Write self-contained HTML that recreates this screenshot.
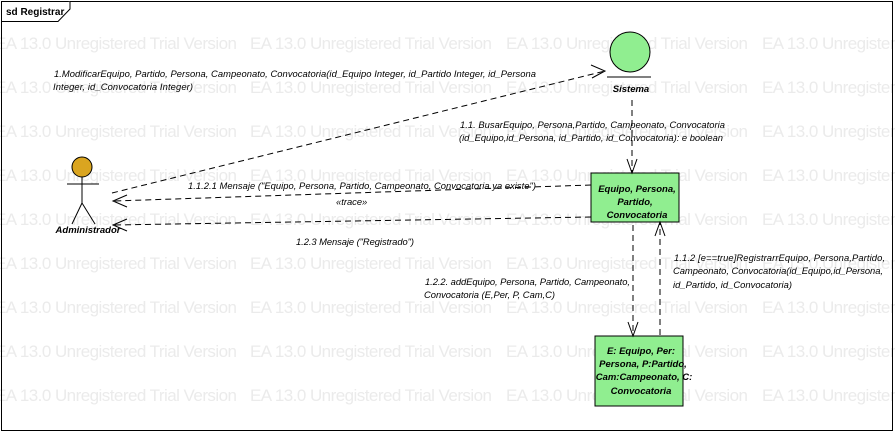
<!DOCTYPE html>
<html><head><meta charset="utf-8"><style>
html,body{margin:0;padding:0;background:#fff;}
svg{display:block;}
.wm{font-family:"Liberation Sans",sans-serif;font-size:17px;fill:#ebebeb;}
.l{font-family:"Liberation Sans",sans-serif;font-size:9.4px;font-style:italic;fill:#000;}
.b{font-family:"Liberation Sans",sans-serif;font-size:9.5px;font-style:italic;font-weight:bold;fill:#000;}
</style></head><body>
<svg width="895" height="433" viewBox="0 0 895 433" xmlns="http://www.w3.org/2000/svg">
<g class="wm">
<g id="r"><text x="-5" y="49" textLength="242">EA 13.0 Unregistered Trial Version</text><text x="250" y="49" textLength="242">EA 13.0 Unregistered Trial Version</text><text x="506" y="49" textLength="242">EA 13.0 Unregistered Trial Version</text><text x="762" y="49" textLength="242">EA 13.0 Unregistered Trial Version</text></g>
<use href="#r" y="44"/><use href="#r" y="88"/><use href="#r" y="132"/><use href="#r" y="176"/><use href="#r" y="220"/><use href="#r" y="264"/><use href="#r" y="308"/><use href="#r" y="352"/>
</g>
<rect x="1.5" y="1.5" width="891" height="429" fill="none" stroke="#000" stroke-width="1"/>
<path d="M1.5 21.5 H58 L70 9 V1.5" fill="#fff" stroke="#000"/>
<text x="6" y="15" font-family="Liberation Sans,sans-serif" font-size="10" font-weight="bold">sd Registrar</text>

<circle cx="82" cy="167" r="10" fill="#DAA520" stroke="#000"/>
<g stroke="#000" fill="none">
<line x1="82" y1="177" x2="82" y2="203"/><line x1="67" y1="184" x2="99" y2="184"/>
<line x1="82" y1="203" x2="72" y2="224"/><line x1="82" y1="203" x2="95" y2="224"/>
</g>
<text class="b" x="88" y="233" text-anchor="middle">Administrador</text>

<circle cx="630" cy="52" r="20" fill="#90EE90" stroke="#000"/>
<line x1="607" y1="77" x2="651" y2="77" stroke="#000"/>
<text class="b" x="631" y="92" text-anchor="middle">Sistema</text>

<rect x="591" y="173" width="88" height="49" fill="#90EE90" stroke="#000"/>
<text class="b" x="637" y="192" text-anchor="middle">Equipo, Persona,</text>
<text class="b" x="635" y="205" text-anchor="middle">Partido,</text>
<text class="b" x="637" y="218" text-anchor="middle">Convocatoria</text>
<rect x="595" y="336" width="88" height="70" fill="#90EE90" stroke="#000"/>
<text class="b" x="641" y="354" text-anchor="middle">E: Equipo, Per:</text>
<text class="b" x="643" y="367" text-anchor="middle">Persona, P:Partido,</text>
<text class="b" x="644" y="380" text-anchor="middle">Cam:Campeonato, C:</text>
<text class="b" x="641" y="394" text-anchor="middle">Convocatoria</text>

<g stroke="#000" fill="none" stroke-dasharray="6,4">
<line x1="112" y1="193" x2="605" y2="71"/>
<line x1="632" y1="100" x2="632" y2="172"/>
<line x1="591" y1="185" x2="114" y2="201"/>
<line x1="591" y1="217" x2="114" y2="225"/>
<line x1="633" y1="225" x2="633" y2="335"/>
<line x1="660" y1="335" x2="660" y2="223"/>
</g>
<g stroke="#000" fill="none">
<path d="M591 65 L605 71 L592 78"/>
<path d="M627 159 L632 173 L637 159"/>
<path d="M127 195 L113 201 L127 207"/>
<path d="M127 219 L113 225 L127 231"/>
<path d="M628 322 L633 336 L638 322"/>
<path d="M655 236 L660 222 L665 236"/>
</g>

<text class="l" x="54" y="77" textLength="482">1.ModificarEquipo, Partido, Persona, Campeonato, Convocatoria(id_Equipo Integer, id_Partido Integer, id_Persona</text>
<text class="l" x="53" y="90" textLength="140">Integer, id_Convocatoria Integer)</text>
<text class="l" x="460" y="128" textLength="265">1.1. BusarEquipo, Persona,Partido, Campeonato, Convocatoria</text>
<text class="l" x="459" y="141" textLength="264">(id_Equipo,id_Persona, id_Partido, id_Convocatoria): e boolean</text>
<text class="l" x="188" y="189" textLength="348">1.1.2.1 Mensaje ("Equipo, Persona, Partido, Campeonato, Convocatoria ya existe")</text>
<text class="l" x="336" y="205">«trace»</text>
<text class="l" x="296" y="245" textLength="118">1.2.3 Mensaje ("Registrado")</text>
<text class="l" x="425" y="285" textLength="205">1.2.2. addEquipo, Persona, Partido, Campeonato,</text>
<text class="l" x="424" y="298" textLength="131">Convocatoria (E,Per, P, Cam,C)</text>
<text class="l" x="674" y="261" textLength="211">1.1.2 [e==true]RegistrarrEquipo, Persona,Partido,</text>
<text class="l" x="673" y="274" textLength="210">Campeonato, Convocatoria(id_Equipo,id_Persona,</text>
<text class="l" x="673" y="288" textLength="119">id_Partido, id_Convocatoria)</text>
</svg>
</body></html>
